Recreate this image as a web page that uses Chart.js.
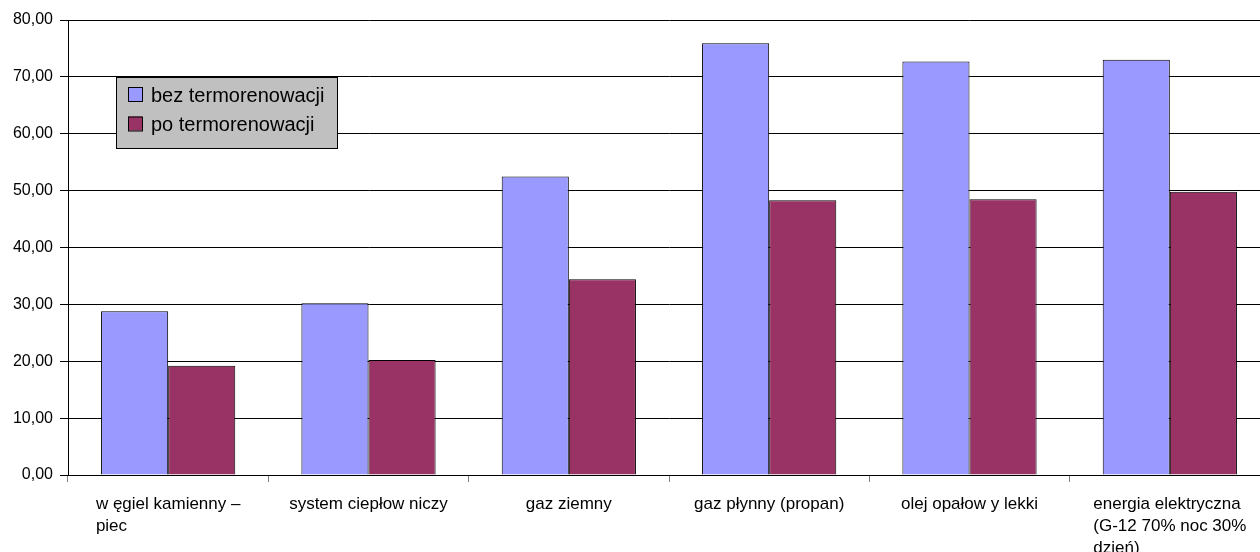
<!DOCTYPE html>
<html>
<head>
<meta charset="utf-8">
<script src="https://cdn.jsdelivr.net/npm/chart.js@4/dist/chart.umd.min.js"></script>
<style>
  html, body { margin: 0; padding: 0; background: #fff; overflow: hidden; }
  canvas { display: block; }
</style>
</head>
<body>
<canvas id="myChart" width="1270" height="552"></canvas>
<script>
// categories (multi-line, as wrapped in the original)
const categories = [
  ['w ęgiel kamienny –', 'piec'],
  ['system ciepłow niczy'],
  ['gaz ziemny'],
  ['gaz płynny (propan)'],
  ['olej opałow y lekki'],
  ['energia elektryczna', '(G-12 70% noc 30%', 'dzień)']
];
const seriesNames = ['bez termorenowacji', 'po termorenowacji'];
const bezTermo = [28.8, 30.2, 52.5, 75.9, 72.7, 73.0];
const poTermo = [19.2, 20.2, 34.4, 48.3, 48.5, 49.8];
const yTicks = [0, 10, 20, 30, 40, 50, 60, 70, 80];

const FONT = '"Liberation Sans", Arial, sans-serif';

// left-aligned multi-line category labels, block centred on the category
const xLabels = {
  id: 'xLabels',
  afterDraw(chart) {
    const ctx = chart.ctx;
    const x = chart.scales.x;
    ctx.save();
    ctx.font = '17px ' + FONT;
    ctx.fillStyle = '#000';
    ctx.textAlign = 'left';
    ctx.textBaseline = 'middle';
    categories.forEach((lines, i) => {
      const cx = x.getPixelForValue(i);
      const w = Math.max(...lines.map(l => ctx.measureText(l).width));
      lines.forEach((l, k) => {
        ctx.fillText(l, cx - w / 2, x.top + 29 + k * 22);
      });
    });
    ctx.restore();
  }
};

// boxed legend placed inside the plot, like the original
const boxLegend = {
  id: 'boxLegend',
  afterDraw(chart) {
    const ctx = chart.ctx;
    ctx.save();
    ctx.fillStyle = '#c0c0c0';
    ctx.fillRect(116, 77, 222, 72);
    ctx.strokeStyle = '#000';
    ctx.lineWidth = 1;
    ctx.strokeRect(116.5, 77.5, 221, 71);
    ctx.font = '20px ' + FONT;
    ctx.textAlign = 'left';
    ctx.textBaseline = 'middle';
    chart.data.datasets.forEach((ds, i) => {
      const y = 87 + i * 29.5;
      ctx.fillStyle = ds.backgroundColor;
      ctx.fillRect(128, y, 14, 14);
      ctx.strokeStyle = '#000';
      ctx.strokeRect(128.5, y + 0.5, 14, 14);
      ctx.fillStyle = '#000';
      ctx.fillText(ds.label, 151, y + 9);
    });
    ctx.restore();
  }
};

new Chart(document.getElementById('myChart'), {
  type: 'bar',
  data: {
    labels: categories,
    datasets: [{
      label: seriesNames[0],
      data: bezTermo,
      backgroundColor: '#9999ff',
      borderColor: '#000',
      borderWidth: 1
    }, {
      label: seriesNames[1],
      data: poTermo,
      backgroundColor: '#993366',
      borderColor: '#000',
      borderWidth: 1
    }]
  },
  options: {
    responsive: false,
    animation: false,
    devicePixelRatio: 1,
    layout: { padding: { top: 20, right: 0, left: 0, bottom: 0 } },
    plugins: {
      legend: { display: false },
      tooltip: { enabled: false }
    },
    datasets: {
      bar: { categoryPercentage: 0.67, barPercentage: 1.0 }
    },
    scales: {
      x: {
        offset: true,
        grid: {
          offset: true,
          drawOnChartArea: false,
          drawTicks: true,
          tickLength: 7,
          color: '#808080'
        },
        border: { color: '#000' },
        ticks: { display: false },
        afterFit(scale) { scale.height = 77; }
      },
      y: {
        min: 0,
        max: 80,
        afterBuildTicks(scale) { scale.ticks = yTicks.map(v => ({ value: v })); },
        grid: {
          color: '#000',
          tickLength: 8
        },
        border: { color: '#000' },
        ticks: {
          padding: 7,
          color: '#000',
          font: { family: FONT, size: 16 },
          callback: v => v.toFixed(2).replace('.', ',')
        },
        afterFit(scale) { scale.width = 68; }
      }
    }
  },
  plugins: [xLabels, boxLegend]
});
</script>
</body>
</html>
